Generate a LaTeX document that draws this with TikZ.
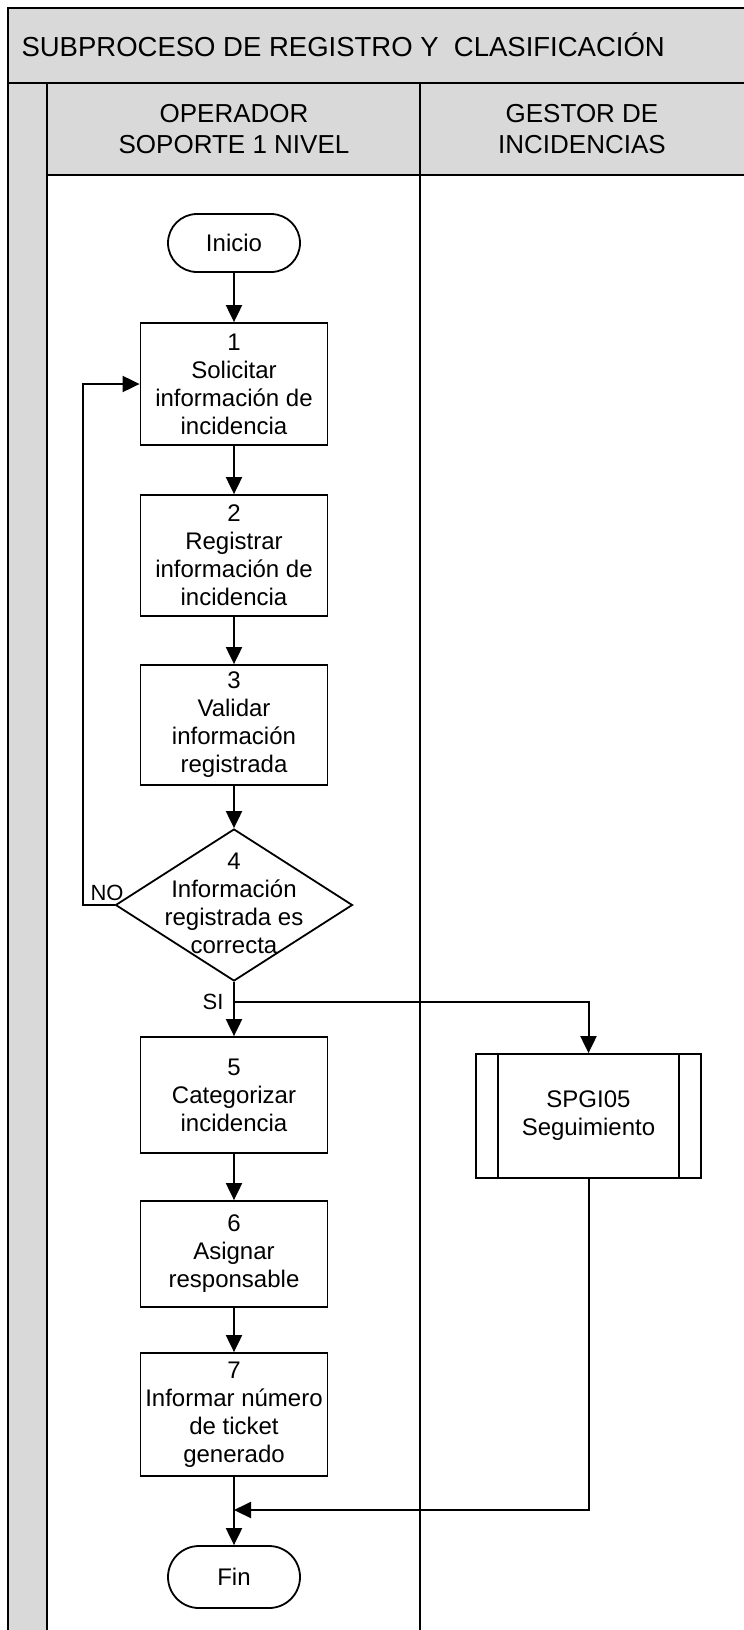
\documentclass[tikz,border=0pt]{standalone}
\usepackage{fontspec}
\setmainfont{Liberation Sans}
\usetikzlibrary{shapes.geometric,arrows.meta}
\definecolor{bandgray}{HTML}{D9D9D9}
\begin{document}
\begin{tikzpicture}[x={(1pt,0pt)},y={(0pt,-1pt)},
  frameline/.style={line width=1.6pt},
  flow/.style={line width=2pt,-{Triangle[length=17pt,width=16pt]}},
  body/.style={font=\fontsize{24}{28}\selectfont},
  headtext/.style={font=\fontsize{26}{31}\selectfont, align=center},
  stepbox/.style={draw, line width=1.8pt, fill=white, body, align=center,
    minimum width=187pt, inner sep=0pt},
  terminal/.style={draw, line width=1.8pt, fill=white, body, rounded corners=29pt,
    minimum width=132pt, minimum height=58pt, inner sep=0pt},
  decision/.style={draw, line width=1.8pt, fill=white, diamond, inner sep=0pt,
    minimum width=237pt, minimum height=152pt},
  subproc/.style={draw, line width=1.8pt, fill=white, body, align=center,
    minimum width=225pt, minimum height=124pt, inner sep=0pt},
  branchlabel/.style={font=\fontsize{22}{26}\selectfont}
]
\useasboundingbox (0,0) rectangle (744,1630);

% pool frame, title band, lane headers and side strip
\fill[bandgray] (8,8) rectangle (744,83);
\fill[bandgray] (47,83) rectangle (744,175);
\fill[bandgray] (8,83) rectangle (47,1630);
\draw[frameline] (8,1630) -- (8,8) -- (744,8);
\draw[frameline] (8,83) -- (744,83);
\draw[frameline] (47,175) -- (744,175);
\draw[frameline] (47,83) -- (47,1630);
\draw[frameline] (420,83) -- (420,1630);

\node[font=\fontsize{27.5}{31}\selectfont, anchor=west] (title) at (18,45) {SUBPROCESO DE REGISTRO Y\ \ CLASIFICACIÓN};
\node[headtext] (laneop) at (234,129) {OPERADOR\\SOPORTE 1 NIVEL};
\node[headtext] (lanegi) at (582,129) {GESTOR DE\\INCIDENCIAS};

% flow nodes
\node[terminal] (inicio) at (234,243) {Inicio};
\node[stepbox, minimum height=122pt] (s1) at (234,384) {1\\Solicitar\\información de\\incidencia};
\node[stepbox, minimum height=121pt] (s2) at (234,555.5) {2\\Registrar\\información de\\incidencia};
\node[stepbox, minimum height=120pt] (s3) at (234,725) {3\\Validar\\información\\registrada};
\node[decision] (d4) at (234,905) {};
\node[body, align=center] (d4text) at (234,903) {4\\Información\\registrada es\\correcta};
\node[stepbox, minimum height=116pt] (s5) at (234,1095) {5\\Categorizar\\incidencia};
\node[stepbox, minimum height=106pt] (s6) at (234,1254) {6\\Asignar\\responsable};
\node[stepbox, minimum height=123pt] (s7) at (234,1414.5) {7\\Informar número\\de ticket\\generado};
\node[terminal, minimum height=62pt, rounded corners=31pt] (fin) at (234,1577) {Fin};
\node[subproc] (sp) at (588.5,1116) {SPGI05\\Seguimiento};
\draw[line width=1.8pt] ([xshift=23pt]sp.north west) -- ([xshift=23pt]sp.south west);
\draw[line width=1.8pt] ([xshift=-23pt]sp.north east) -- ([xshift=-23pt]sp.south east);

% junction points
\coordinate (split) at (234,1002);
\coordinate (merge) at (234,1510);
\coordinate (loopcorner) at (83,905);

% connectors
\draw[flow] (inicio) -- (s1);
\draw[flow] (s1) -- (s2);
\draw[flow] (s2) -- (s3);
\draw[flow] (s3) -- (d4.north);
\draw[flow] (d4.west) -- (loopcorner) |- (s1.west);
\draw[flow] (d4.south) -- (s5.north);
\draw[flow] (split) -| (sp.north);
\draw[flow] (s5) -- (s6);
\draw[flow] (s6) -- (s7);
\draw[flow] (sp.south) |- (merge);
\draw[flow] (s7) -- (fin);

% branch labels
\node[branchlabel] (nolabel) at (107,893) {NO};
\node[branchlabel] (silabel) at (213,1002) {SI};
\end{tikzpicture}
\end{document}
